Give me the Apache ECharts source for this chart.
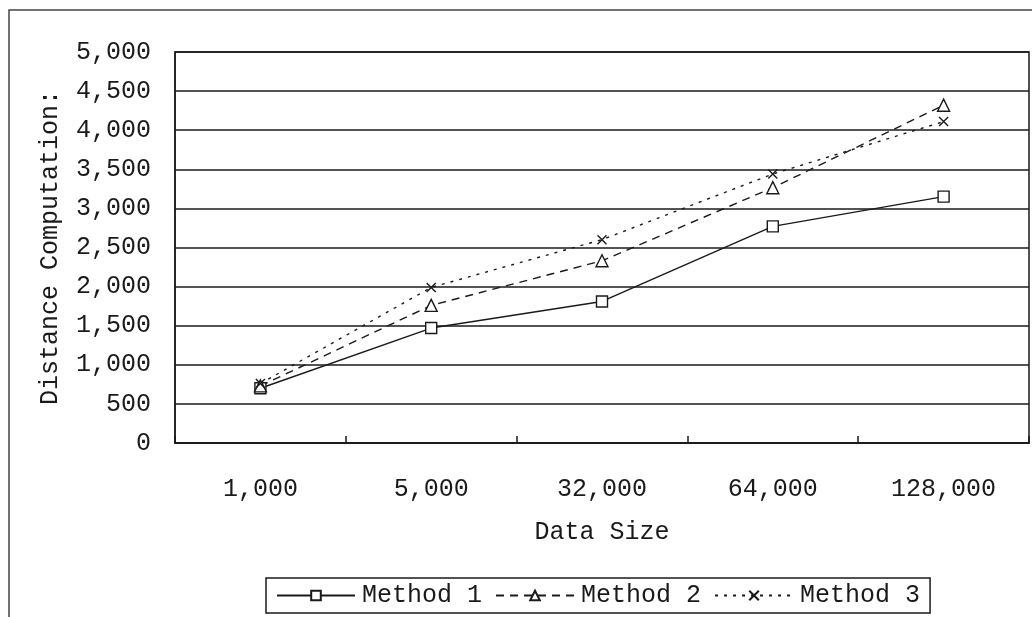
<!DOCTYPE html>
<html>
<head>
<meta charset="utf-8">
<script src="https://cdn.jsdelivr.net/npm/echarts@6/dist/echarts.min.js"></script>
<style>
  html, body { margin: 0; padding: 0; background: #fff; }
  #chart { width: 1032px; height: 617px; }
</style>
</head>
<body>
<div id="chart"></div>
<script>
// Data size categories and distance computation counts per method
const categories = ['1,000', '5,000', '32,000', '64,000', '128,000'];
const method1 = [700, 1470, 1810, 2770, 3150];
const method2 = [730, 1760, 2330, 3265, 4320];
const method3 = [760, 1990, 2600, 3440, 4110];
const seriesNames = ['Method 1', 'Method 2', 'Method 3'];

const FONT = '"Liberation Mono", "DejaVu Sans Mono", monospace';
const INK = '#1a1a1a';
const CROSS = 'path://M0,0 L10,10 M10,0 L0,10';

const chart = echarts.init(document.getElementById('chart'), null, { renderer: 'canvas' });

function fmt(v) {
  return v.toLocaleString('en-US');
}

function lineSeries(name, data, type, symbol, size) {
  return {
    name: name,
    type: 'line',
    data: data,
    symbol: symbol,
    symbolSize: size,
    showAllSymbol: true,
    lineStyle: { color: INK, width: 1.4, type: type },
    itemStyle: { color: '#fff', borderColor: INK, borderWidth: 1.4 },
    emphasis: { disabled: true },
    z: 3
  };
}

chart.setOption({
  animation: false,
  backgroundColor: '#fff',
  textStyle: { fontFamily: FONT, color: INK },
  grid: {
    left: 175, right: 3, top: 52, bottom: 174,
    show: true, borderColor: INK, borderWidth: 1.5, backgroundColor: 'transparent'
  },
  graphic: [{
    type: 'rect',
    shape: { x: 9, y: 10, width: 1100, height: 700 },
    style: { fill: 'none', stroke: '#444', lineWidth: 1.5 },
    silent: true, z: -1
  }],
  legend: {
    data: seriesNames,
    left: 266, top: 578,
    padding: [5, 10, 5, 10],
    itemGap: 13,
    itemWidth: 78,
    itemHeight: 12,
    borderColor: INK, borderWidth: 1.5,
    textStyle: { fontFamily: FONT, fontSize: 25, color: INK, padding: [0, 0, 0, 2] },
    selectedMode: false
  },
  xAxis: {
    type: 'category',
    data: categories,
    boundaryGap: true,
    name: 'Data Size',
    nameLocation: 'middle',
    nameGap: 77,
    nameTextStyle: { fontFamily: FONT, fontSize: 25, color: INK },
    axisLine: { lineStyle: { color: INK, width: 1.5 } },
    axisTick: { show: true, inside: true, length: 7, lineStyle: { color: INK, width: 1.5 } },
    axisLabel: { fontFamily: FONT, fontSize: 25, color: INK, margin: 34 },
    splitLine: { show: false }
  },
  yAxis: {
    type: 'value',
    min: 0, max: 5000, interval: 500,
    name: 'Distance Computation:',
    nameLocation: 'middle',
    nameGap: 112,
    nameRotate: 90,
    nameTextStyle: { fontFamily: FONT, fontSize: 25, color: INK },
    axisLine: { show: true, lineStyle: { color: INK, width: 1.5 } },
    axisTick: { show: false },
    axisLabel: { fontFamily: FONT, fontSize: 25, color: INK, margin: 24, formatter: fmt },
    splitLine: { show: true, lineStyle: { color: INK, width: 1.5 } }
  },
  series: [
    lineSeries('Method 1', method1, 'solid', 'rect', 11),
    lineSeries('Method 2', method2, [8, 6], 'triangle', 12),
    lineSeries('Method 3', method3, [3, 6], CROSS, 9)
  ]
});
</script>
</body>
</html>
